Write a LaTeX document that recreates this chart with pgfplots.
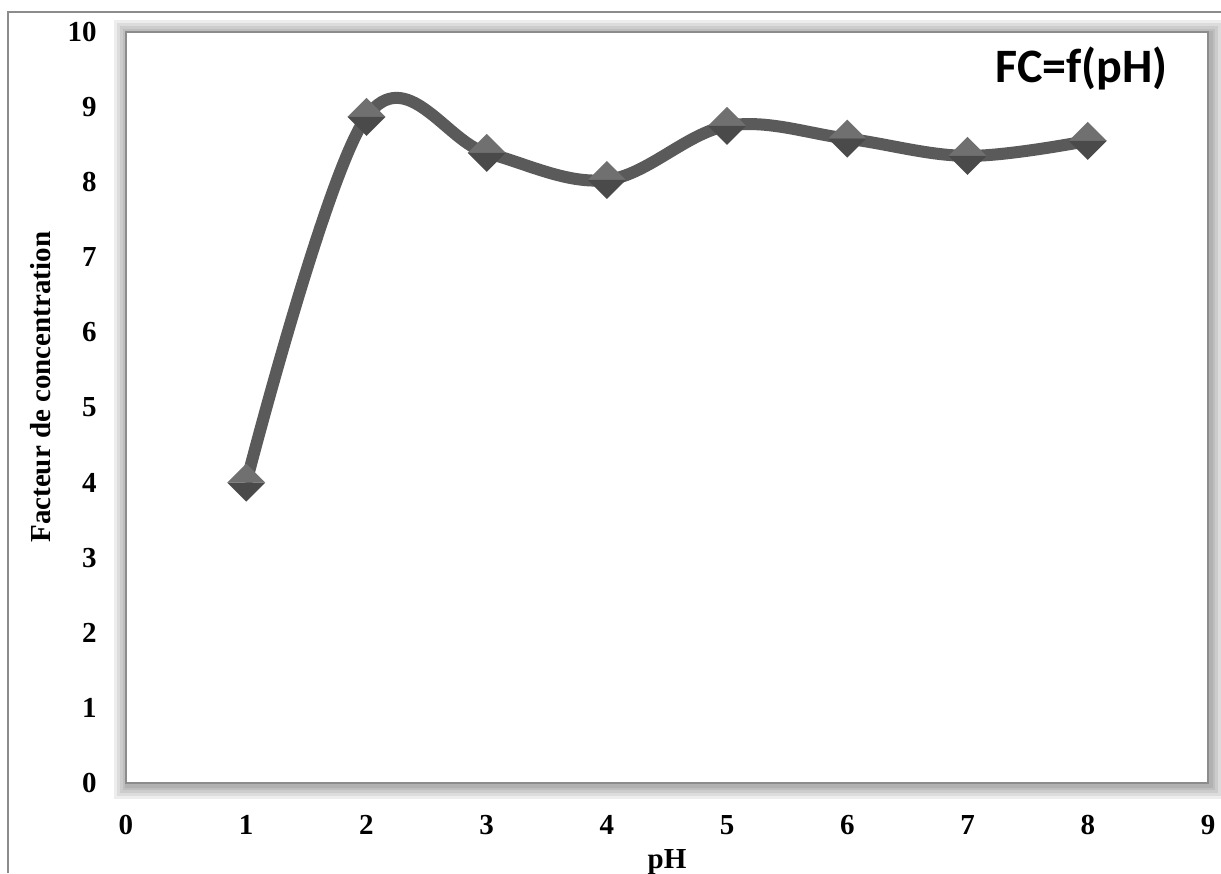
\documentclass[border=0pt]{standalone}
\usepackage{pgfplots}
\pgfplotsset{compat=1.18}
\usepackage{fontspec}
\setmainfont{Liberation Serif}
\newfontfamily\calibri{Carlito}
\definecolor{lineC}{HTML}{5A5A5A}
\definecolor{markTop}{HTML}{707070}
\definecolor{markBot}{HTML}{4A4A4A}
\pgfdeclareplotmark{gem}{%
  \pgfpathmoveto{\pgfqpoint{-\pgfplotmarksize}{0pt}}%
  \pgfpathlineto{\pgfqpoint{0pt}{\pgfplotmarksize}}%
  \pgfpathlineto{\pgfqpoint{\pgfplotmarksize}{0pt}}%
  \pgfpathclose
  \pgfsetfillcolor{markTop}\pgfusepath{fill}%
  \pgfpathmoveto{\pgfqpoint{-\pgfplotmarksize}{0pt}}%
  \pgfpathlineto{\pgfqpoint{0pt}{-\pgfplotmarksize}}%
  \pgfpathlineto{\pgfqpoint{\pgfplotmarksize}{0pt}}%
  \pgfpathclose
  \pgfsetfillcolor{markBot}\pgfusepath{fill}%
}
\begin{document}
\begin{tikzpicture}[x=1pt,y=1pt]
\useasboundingbox (0,0) rectangle (610.5,436.5);
\draw[black!45, line width=1pt] (4,0) -- (4,430.5) -- (611,430.5);
% shadowed frame
\foreach \w in {14,11,8,5,3}{
  \draw[black, opacity=0.07, line width=\w pt] (63.8,44) rectangle (604.8,419.5);
}
\fill[white] (63,45) rectangle (604,420.5);
\begin{axis}[
  name=ax,
  at={(63pt,45pt)}, anchor=south west,
  scale only axis, width=541pt, height=375.5pt,
  xmin=0, xmax=9, ymin=0, ymax=10,
  xtick={0,...,9}, ytick={0,...,10},
  tick style={draw=none},
  axis line style={black!45, line width=1.2pt},
  /pgf/number format/assume math mode=true,
  ticklabel style={font=\fontsize{14.5}{16}\selectfont\bfseries, inner sep=0pt},
  xticklabel style={anchor=north, yshift=-16pt},
  yticklabel style={anchor=east, xshift=-14.5pt},
  xlabel={pH}, ylabel={Facteur de concentration},
  every axis x label/.style={at={(axis description cs:0.5,-0.1132)}, anchor=base, font=\fontsize{14.5}{16}\selectfont\bfseries},
  every axis y label/.style={at={(axis description cs:-0.0786,0.527)}, anchor=center, rotate=90, font=\fontsize{14.5}{16}\selectfont\bfseries},
  clip=false,
]
\addplot[lineC, line width=6pt, smooth, tension=0.6, mark=gem, mark size=9.5pt, mark options={solid}] coordinates {
  (1,4.0) (2,8.87) (3,8.39) (4,8.03) (5,8.75) (6,8.58) (7,8.35) (8,8.55)
};
\end{axis}
\node[anchor=base west, inner sep=0pt, font=\calibri\bfseries\fontsize{24}{27}\selectfont] at (497.5,395) {FC=f(pH)};
\end{tikzpicture}
\end{document}
